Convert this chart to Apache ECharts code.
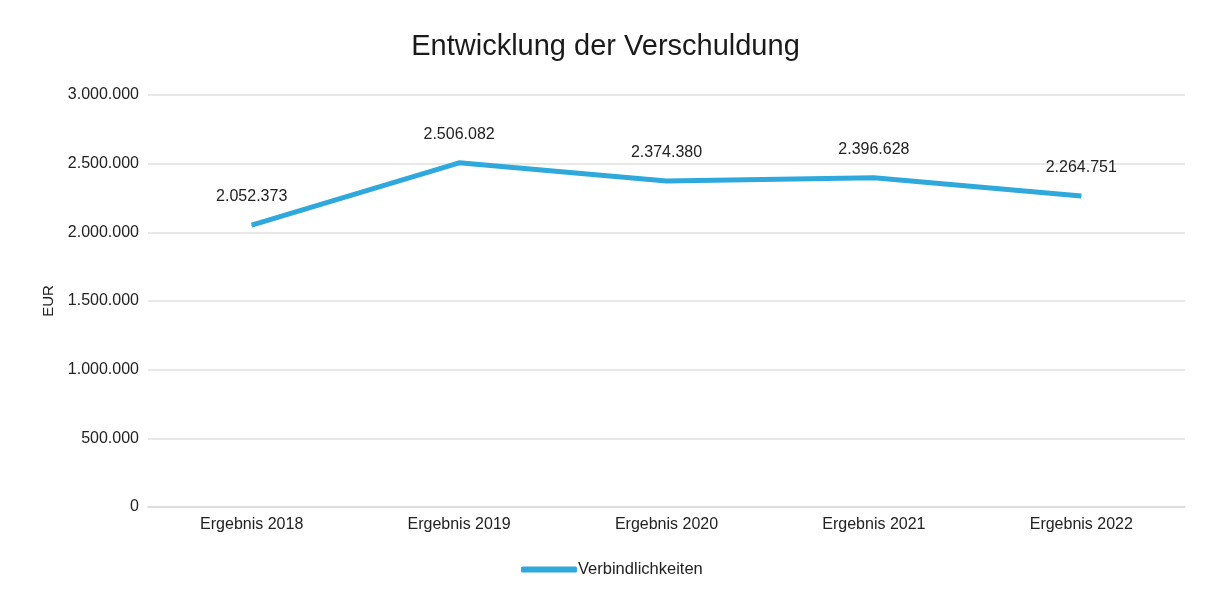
<!DOCTYPE html>
<html>
<head>
<meta charset="utf-8">
<script src="https://cdn.jsdelivr.net/npm/echarts@6/dist/echarts.min.js"></script>
<style>
  html, body { margin: 0; padding: 0; background: #fff; }
  #chart { width: 1211px; height: 598px; }
</style>
</head>
<body>
<div id="chart"></div>
<script>
// Werte aus der Vorlage
const categories = ["Ergebnis 2018", "Ergebnis 2019", "Ergebnis 2020", "Ergebnis 2021", "Ergebnis 2022"];
const verbindlichkeiten = [2052373, 2506082, 2374380, 2396628, 2264751];

// deutsche Tausenderpunkte
function fmt(v) {
  return String(Math.round(v)).replace(/\B(?=(\d{3})+(?!\d))/g, ".");
}

const chart = echarts.init(document.getElementById("chart"));
chart.setOption({
  animation: false,
  textStyle: { fontFamily: "Liberation Sans, Arial, sans-serif" },
  title: {
    text: "Entwicklung der Verschuldung",
    left: "center",
    top: 27,
    textStyle: { fontSize: 29, fontWeight: "normal", color: "#1a1a1a" }
  },
  legend: {
    bottom: 20,
    left: 521,
    padding: 0,
    itemWidth: 56,
    itemHeight: 6,
    itemGap: 0,
    icon: "roundRect",
    textStyle: { fontSize: 16.5, color: "#222", padding: [0, 0, 0, -4] },
    data: ["Verbindlichkeiten"]
  },
  grid: { left: 148, right: 26, top: 95, bottom: 91 },
  xAxis: {
    type: "category",
    data: categories,
    axisLine: { lineStyle: { color: "#d9d9d9", width: 1.5 } },
    axisTick: { show: false },
    axisLabel: { color: "#222", fontSize: 16, margin: 10 }
  },
  yAxis: {
    type: "value",
    name: "EUR",
    nameLocation: "middle",
    nameGap: 92,
    nameTextStyle: { color: "#222", fontSize: 15 },
    min: 0,
    max: 3000000,
    interval: 500000,
    axisLine: { show: false },
    axisTick: { show: false },
    axisLabel: { color: "#222", fontSize: 16, margin: 9, formatter: fmt },
    splitLine: { lineStyle: { color: "#e0e0e0", width: 1.5 } }
  },
  series: [{
    name: "Verbindlichkeiten",
    type: "line",
    data: verbindlichkeiten,
    symbol: "circle",
    symbolSize: 1,
    lineStyle: { color: "#2fa9dc", width: 5 },
    itemStyle: { color: "#2fa9dc" },
    label: {
      show: true,
      position: "top",
      distance: 20,
      fontSize: 16,
      color: "#222",
      formatter: p => fmt(p.value)
    }
  }]
});
</script>
</body>
</html>
